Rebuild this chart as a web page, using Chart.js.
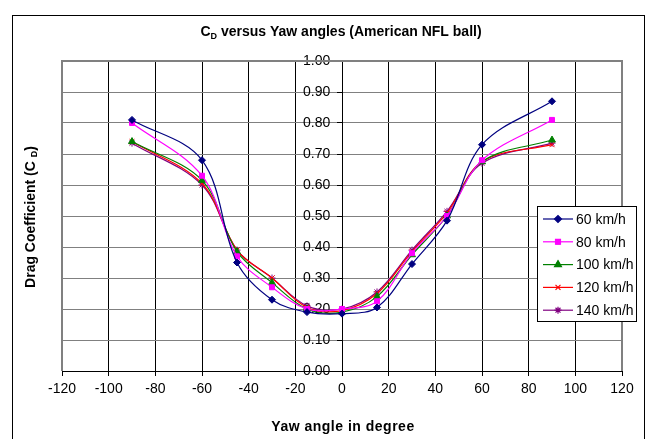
<!DOCTYPE html>
<html lang="en">
<head>
  <meta charset="UTF-8">
  <title>CD versus Yaw angles</title>
  <style>
    body { margin: 0; background: #fff; }
    #wrap { position: relative; width: 649px; height: 439px; overflow: hidden; }
  </style>
</head>
<body>
  <div id="wrap">
    <canvas id="cdChart" width="649" height="439"></canvas>
  </div>

  <script src="https://cdn.jsdelivr.net/npm/chart.js@4.4.0/dist/chart.umd.min.js"></script>
  <script>
    // yaw angles (degrees) measured
    const yawAngles = [-90, -60, -45, -30, -15, 0, 15, 30, 45, 60, 90];

    // drag coefficient per speed
    const cd60  = [0.81, 0.68, 0.35, 0.23, 0.19, 0.185, 0.205, 0.345, 0.485, 0.73, 0.87];
    const cd80  = [0.80, 0.63, 0.37, 0.27, 0.20, 0.20, 0.225, 0.38, 0.50, 0.68, 0.81];
    const cd100 = [0.74, 0.615, 0.385, 0.285, 0.20, 0.19, 0.24, 0.375, 0.50, 0.675, 0.745];
    const cd120 = [0.74, 0.605, 0.39, 0.30, 0.205, 0.195, 0.25, 0.385, 0.51, 0.675, 0.73];
    const cd140 = [0.735, 0.60, 0.39, 0.30, 0.21, 0.20, 0.255, 0.39, 0.515, 0.67, 0.735];

    const seriesLabels = ["60 km/h", "80 km/h", "100 km/h", "120 km/h", "140 km/h"];
    const seriesValues = [cd60, cd80, cd100, cd120, cd140];
    const seriesColors = ["#000080", "#ff00ff", "#008000", "#ff0000", "#800080"];
    const seriesMarkers = ["rectRot", "rect", "triangle", "crossRot", "star"];
    const markerSizes = [3.5, 3.5, 4, 3.5, 3.5];

    const FONT = "'Liberation Sans', Arial, sans-serif";

    const datasets = seriesLabels.map((label, i) => ({
      label: label,
      data: yawAngles.map((x, j) => ({ x: x, y: seriesValues[i][j] })),
      borderColor: seriesColors[i],
      backgroundColor: seriesColors[i],
      pointStyle: seriesMarkers[i],
      pointRadius: markerSizes[i],
      pointBorderWidth: 1,
      borderWidth: 1.2,
      tension: 0.35,
      fill: false
    }));

    // texte avec indice "D"
    function drawSubText(ctx, parts, x, y, align) {
      let total = 0;
      parts.forEach(p => { ctx.font = p.font; total += ctx.measureText(p.text).width; });
      let cx = align === "center" ? x - total / 2 : x;
      parts.forEach(p => {
        ctx.font = p.font;
        ctx.fillText(p.text, cx, y + (p.dy || 0));
        cx += ctx.measureText(p.text).width;
      });
    }

    const decorPlugin = {
      id: "decor",
      beforeDraw(chart) {
        const ctx = chart.ctx;
        ctx.save();
        ctx.fillStyle = "#fff";
        ctx.fillRect(0, 0, chart.width, chart.height);
        ctx.restore();
      },
      beforeDatasetsDraw(chart) {
        const ctx = chart.ctx;
        const a = chart.chartArea;
        ctx.save();
        ctx.strokeStyle = "#808080";
        ctx.lineWidth = 2;
        ctx.beginPath();
        ctx.moveTo(a.left, a.bottom);
        ctx.lineTo(a.left, a.top);
        ctx.lineTo(a.right, a.top);
        ctx.lineTo(a.right, a.bottom);
        ctx.stroke();
        ctx.restore();
      },
      afterDraw(chart) {
        const ctx = chart.ctx;
        ctx.save();

        // cadre extérieur
        ctx.strokeStyle = "#000";
        ctx.lineWidth = 1;
        ctx.strokeRect(12.5, 15.5, 632, 440);

        ctx.fillStyle = "#000";
        ctx.textBaseline = "alphabetic";
        ctx.textAlign = "left";

        // titre
        drawSubText(ctx, [
          { text: "C", font: "bold 14px " + FONT },
          { text: "D", font: "bold 9px " + FONT, dy: 3 },
          { text: " versus Yaw angles (American NFL ball)", font: "bold 14px " + FONT }
        ], 341, 36, "center");

        // titre axe x
        ctx.letterSpacing = "0.5px";
        drawSubText(ctx, [
          { text: "Yaw angle in degree", font: "bold 14px " + FONT }
        ], 343, 431, "center");
        ctx.letterSpacing = "0px";

        // titre axe y
        ctx.save();
        ctx.translate(35, 217);
        ctx.rotate(-Math.PI / 2);
        drawSubText(ctx, [
          { text: "Drag Coefficient (C ", font: "bold 14px " + FONT },
          { text: "D", font: "bold 9px " + FONT, dy: 2 },
          { text: ")", font: "bold 14px " + FONT }
        ], 0, 0, "center");
        ctx.restore();

        // légende
        const lx = 537, ly = 206, lw = 99, lh = 115;
        ctx.fillStyle = "#fff";
        ctx.fillRect(lx, ly, lw, lh);
        ctx.strokeStyle = "#000";
        ctx.lineWidth = 1;
        ctx.strokeRect(lx + 0.5, ly + 0.5, lw, lh);

        chart.data.datasets.forEach((ds, i) => {
          const y = 219 + i * 22.8;
          ctx.strokeStyle = ds.borderColor;
          ctx.lineWidth = 1.2;
          ctx.beginPath();
          ctx.moveTo(543, y);
          ctx.lineTo(573, y);
          ctx.stroke();
          Chart.helpers.drawPoint(ctx, {
            pointStyle: ds.pointStyle,
            radius: ds.pointRadius,
            rotation: 0,
            borderWidth: 1
          }, 558, y);
          ctx.fillStyle = ds.borderColor;
          ctx.strokeStyle = ds.borderColor;
          ctx.fill();
          ctx.fillStyle = "#000";
          ctx.font = "14px " + FONT;
          ctx.textBaseline = "middle";
          ctx.fillText(ds.label, 576, y + 1);
        });

        ctx.restore();
      }
    };

    const ctx = document.getElementById("cdChart").getContext("2d");
    const cdChart = new Chart(ctx, {
      type: "line",
      data: { datasets: datasets },
      options: {
        responsive: false,
        animation: false,
        devicePixelRatio: 1,
        layout: { padding: { top: 61, left: 62, right: 27, bottom: 38 } },
        scales: {
          x: {
            type: "linear",
            position: "bottom",
            min: -120,
            max: 120,
            afterFit: s => { s.height = 30; },
            ticks: { stepSize: 20, color: "#000", font: { family: FONT, size: 14 }, padding: 5, maxRotation: 0 },
            grid: {
              color: c => (c.tick && Math.abs(c.tick.value) === 120) ? "rgba(0,0,0,0)" : "#000",
              lineWidth: 1,
              tickLength: 5,
              tickColor: "#000"
            },
            border: { color: "#000", width: 1 }
          },
          y: {
            type: "linear",
            position: { x: 0 },
            min: 0,
            max: 1,
            ticks: {
              stepSize: 0.1,
              color: "#000",
              font: { family: FONT, size: 14 },
              // décalage du libellé à gauche de l'axe central
              callback: v => v.toFixed(2) + "   "
            },
            grid: { color: "#808080", lineWidth: 1, tickLength: 5, tickColor: "#000" },
            border: { color: "#000", width: 1 }
          }
        },
        plugins: {
          legend: { display: false },
          title: { display: false },
          tooltip: { enabled: false }
        }
      },
      plugins: [decorPlugin]
    });
  </script>
</body>
</html>
